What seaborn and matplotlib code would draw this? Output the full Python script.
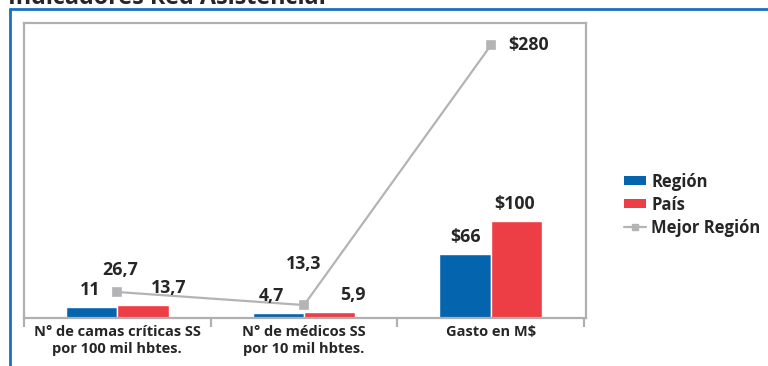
import matplotlib
matplotlib.use("Agg")
import matplotlib.pyplot as plt
from matplotlib.lines import Line2D
from matplotlib.patches import Patch
import pandas as pd
import seaborn as sns

# Data
categorias = ["N° de camas críticas SS\npor 100 mil hbtes.",
              "N° de médicos SS\npor 10 mil hbtes.",
              "Gasto en M$"]
region = [11, 4.7, 66]
pais = [13.7, 5.9, 100]
mejor_region = [26.7, 13.3, 280]
prefijos = ["", "", "$"]

AZUL = "#0564ae"
ROJO = "#ee3e45"
GRIS = "#b4b4b6"
MARCO = "#b0b0b2"
TEXTO = "#262626"
FUENTE = ["Open Sans", "DejaVu Sans"]

sns.set_theme(style="white")
plt.rcParams["font.family"] = FUENTE
plt.rcParams["font.weight"] = "bold"

df = pd.DataFrame({
    "Indicador": categorias * 2,
    "Serie": ["Región"] * 3 + ["País"] * 3,
    "Valor": region + pais,
})

fig = plt.figure(figsize=(7.68, 3.66), dpi=100)
W, H = 768, 366
ax = fig.add_axes([24 / W, 1 - 318 / H, (586 - 24) / W, (318 - 23) / H])

sns.barplot(data=df, x="Indicador", y="Valor", hue="Serie",
            palette=[AZUL, ROJO], width=0.55, dodge=True,
            saturation=1, legend=False, ax=ax, errorbar=None)
sns.pointplot(x=categorias, y=mejor_region, color=GRIS, markers="s",
              linestyles="-", ax=ax, errorbar=None,
              markersize=5.5, linewidth=1.6)

ax.set_xlim(-0.49, 2.51)
ax.set_ylim(0, 303)
ax.set_xlabel("")
ax.set_ylabel("")
ax.set_yticks([])

# category separators as outward ticks, labels centred on categories
ax.set_xticks([-0.5, 0.5, 1.5, 2.5])
ax.set_xticklabels([])
ax.set_xticks([0, 1, 2], minor=True)
ax.set_xticklabels(categorias, minor=True, fontsize=10.5, fontweight="bold",
                   color=TEXTO, linespacing=1.3)
ax.tick_params(axis="x", which="major", direction="out", length=6.5,
               width=1.6, color=MARCO, bottom=True)
ax.tick_params(axis="x", which="minor", length=0, pad=5)

for s in ax.spines.values():
    s.set_color(MARCO)
    s.set_linewidth(1.6)


def fmt(v, pre):
    return pre + f"{v:g}".replace(".", ",")


lbl = dict(ha="center", va="center", fontsize=12.8, fontweight="bold",
           color=TEXTO, textcoords="offset pixels")

# bar value labels
dx_serie = [[-2, -7, 0], [26, 23, -2]]
for k, (cont, vals) in enumerate(zip(ax.containers, [region, pais])):
    for i, (bar, v) in enumerate(zip(cont, vals)):
        xc = bar.get_x() + bar.get_width() / 2
        ax.annotate(fmt(v, prefijos[i]), xy=(xc, v),
                    xytext=(dx_serie[k][i], 17), **lbl)

# best-region labels
offs = [(3, 22), (0, 41), (38, 0)]
for i, v in enumerate(mejor_region):
    ax.annotate(fmt(v, prefijos[i]), xy=(i, v), xytext=offs[i], **lbl)

# legend
handles = [
    Patch(facecolor=AZUL, edgecolor="none", label="Región"),
    Patch(facecolor=ROJO, edgecolor="none", label="País"),
    Line2D([], [], color=GRIS, lw=1.6, marker="s", markersize=4.5,
           label="Mejor Región"),
]
fig.legend(handles=handles, loc="upper left",
           bbox_to_anchor=(612 / W, 1 - 161 / H), frameon=False,
           prop={"family": FUENTE, "weight": "bold", "size": 12.0},
           labelcolor=TEXTO, handlelength=1.35, handleheight=0.45,
           handletextpad=0.3, labelspacing=0.3, borderpad=0.2)

# outer blue frame
fig.add_artist(Line2D([9.5 / W, 9.5 / W], [0, 1 - 8.5 / H],
                      transform=fig.transFigure, color="#1a70be", lw=2.0))
fig.add_artist(Line2D([9.5 / W, 1], [1 - 8.5 / H, 1 - 8.5 / H],
                      transform=fig.transFigure, color="#1a70be", lw=2.0))

# heading, partly outside the canvas
fig.text(8 / W, 1 - 4 / H, "Indicadores Red Asistencial", ha="left",
         va="baseline", fontsize=16.8, fontweight="bold", color=TEXTO)

fig.savefig("out.png", dpi=100)
